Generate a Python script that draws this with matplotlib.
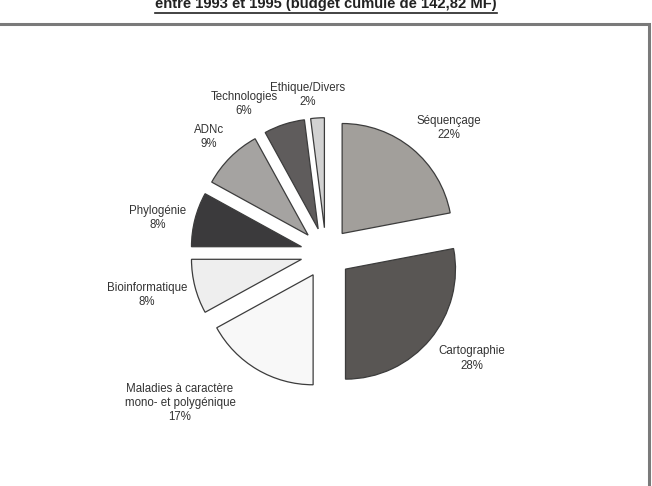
import matplotlib
matplotlib.use("Agg")
import matplotlib.pyplot as plt
from matplotlib.lines import Line2D
from matplotlib.patches import Rectangle

# ---- data ----
categories = ["Séquençage", "Cartographie", "Maladies à caractère\nmono- et polygénique",
              "Bioinformatique", "Phylogénie", "ADNc", "Technologies", "Ethique/Divers"]
values = [22, 28, 17, 8, 8, 9, 6, 2]
colors = ["#a29f9b", "#595654", "#f8f8f8", "#eeeeee", "#3b3a3c", "#a5a3a1", "#5f5c5c", "#d2d2d2"]
title = "entre 1993 et 1995 (budget cumulé de 142,82 MF)"

# label positions (layout, in pie-radius units)
label_pos = [(1.118, 1.136), (1.327, -0.96), (-1.327, -1.364), (-1.627, -0.382),
             (-1.527, 0.318), (-1.064, 1.055), (-0.745, 1.355), (-0.164, 1.436)]

W, H = 652, 486
fig = plt.figure(figsize=(W / 100, H / 100), dpi=100)
ax = fig.add_axes([0, 0, 1, 1])

R = 110.0
cx, cy = 326.0, 253.0

wedges, _ = ax.pie(values, colors=colors, startangle=90, counterclock=False,
                   explode=[0.23] * len(values), radius=1.0,
                   wedgeprops=dict(edgecolor="#3c3c3c", linewidth=0.9))
ax.axis("off")
ax.set_xlim(-cx / R, (W - cx) / R)
ax.set_ylim(-(H - cy) / R, cy / R)
ax.set_aspect("equal")

for cat, v, (lx, ly) in zip(categories, values, label_pos):
    ax.text(lx, ly, f"{cat}\n{v}%", ha="center", va="center", fontsize=8.3,
            family="Liberation Sans", color="#333333", linespacing=1.25)

# frame box
fig.patches.append(Rectangle((-0.01, -0.01), 649 / W + 0.01, 1 - 24 / H + 0.01,
                             transform=fig.transFigure, fill=False,
                             edgecolor="#7a7a7a", linewidth=2.2))

# title (bold underlined, partially clipped)
t = fig.text(0.5, 1 - 4 / H, title, ha="center", va="center", fontsize=10.6,
             fontweight="bold", family="Liberation Sans", color="#222222")
fig.canvas.draw()
bb = t.get_window_extent(renderer=fig.canvas.get_renderer())
uy = 1 - 13 / H
fig.lines.append(Line2D([bb.x0 / W, bb.x1 / W], [uy, uy], transform=fig.transFigure,
                        color="#222222", linewidth=1.2))

fig.savefig("out.png", dpi=100)
